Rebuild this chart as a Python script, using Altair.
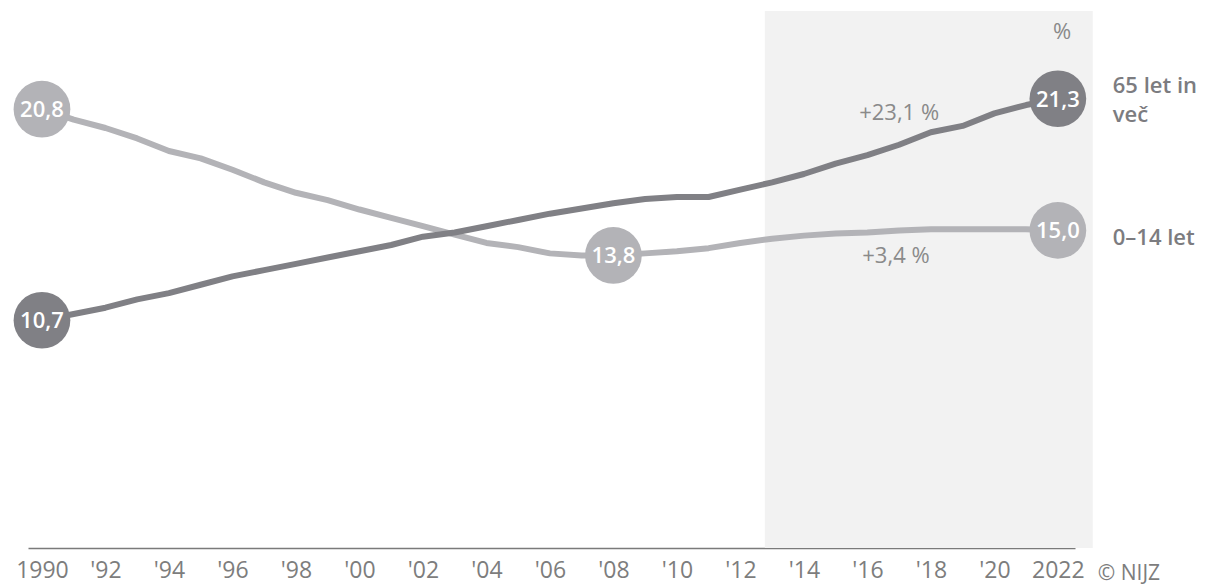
import altair as alt
import pandas as pd

# ---- data ----
years = list(range(1990, 2023))
young = [20.8, 20.3, 19.9, 19.4, 18.8, 18.45, 17.9, 17.3, 16.8, 16.45, 16.0,
         15.6, 15.2, 14.8, 14.4, 14.2, 13.9, 13.8, 13.8, 13.9, 14.0,
         14.15, 14.4, 14.6, 14.75, 14.85, 14.9, 15.0, 15.06, 15.06, 15.06,
         15.06, 15.0]
old = [10.7, 11.0, 11.3, 11.7, 12.0, 12.4, 12.8, 13.1, 13.4, 13.7, 14.0,
       14.3, 14.7, 14.9, 15.2, 15.5, 15.8, 16.05, 16.3, 16.5, 16.6,
       16.6, 16.95, 17.3, 17.7, 18.2, 18.6, 19.1, 19.7, 20.0, 20.6,
       21.0, 21.3]
series_names = ["0–14 let", "65 let in več"]
series_colors = ["#b3b3b7", "#808085"]

# highlighted points (circles)
pt_years = [1990, 2008, 2022, 1990, 2022]
pt_series = ["0–14 let", "0–14 let", "0–14 let", "65 let in več", "65 let in več"]

# x tick labels
tick_years = list(range(1990, 2023, 2))

# shaded period
shade_from, shade_to = 2012.77, 2023.1
y_min, y_max = -0.2, 25.5
x_min, x_max = 1989.56, 2022.54

# annotations
ann_text = ["+23,1 %", "+3,4 %", "%"]
ann_year = [2017.0, 2016.9, 2022.13]
ann_value = [20.27, 13.43, 24.15]

# series labels on the right
lab_text = ["65 let in\nveč", "0–14 let"]
lab_year = [2023.73, 2023.73]
lab_value = [21.57, 14.29]

credit_text = ["© NIJZ"]
credit_year = [2023.26]
credit_value = [-1.75]

# ---- tables ----
lines_df = pd.DataFrame({
    "year": years * 2,
    "value": young + old,
    "series": [series_names[0]] * len(years) + [series_names[1]] * len(years),
})
lookup = {(s, y): v for s, y, v in zip(lines_df.series, lines_df.year, lines_df.value)}
pts_df = pd.DataFrame({
    "year": pt_years,
    "series": pt_series,
    "value": [lookup[(s, y)] for s, y in zip(pt_series, pt_years)],
})
pts_df["label"] = pts_df["value"].map(lambda v: f"{v:.1f}".replace(".", ","))
shade_df = pd.DataFrame({"year": [shade_from], "year2": [shade_to],
                         "value": [y_min], "value2": [y_max]})
ann_df = pd.DataFrame({"year": ann_year, "value": ann_value, "text": ann_text})
lab_df = pd.DataFrame({"year": lab_year, "value": lab_value, "text": lab_text})
credit_df = pd.DataFrame({"year": credit_year, "value": credit_value, "text": credit_text})

FONT = "Open Sans"
xs = alt.Scale(domain=[x_min, x_max], nice=False, zero=False)
ys = alt.Scale(domain=[y_min, y_max], nice=False, zero=False)
xa = alt.Axis(values=tick_years, title=None, grid=False, ticks=False,
              domain=True, domainColor="#7a7a7a", domainWidth=1.5,
              labelFont=FONT, labelFontSize=23, labelColor="#7d7d7d",
              labelPadding=11, labelFlush=False, labelOverlap=False,
              labelExpr="datum.value == 1990 || datum.value == 2022 ? toString(datum.value) : \"'\" + substring(toString(datum.value), 2)")
X = alt.X("year:Q", scale=xs, axis=xa)
Y = alt.Y("value:Q", scale=ys, axis=None)
C = alt.Color("series:N", scale=alt.Scale(domain=series_names, range=series_colors), legend=None)

shade = alt.Chart(shade_df).mark_rect(color="#f2f2f2").encode(
    x=X, x2="year2:Q", y=Y, y2="value2:Q")

line_young = alt.Chart(lines_df).transform_filter(
    alt.datum.series == series_names[0]).mark_line(strokeWidth=6, strokeJoin="round").encode(
    x=X, y=Y, color=C)
line_old = alt.Chart(lines_df).transform_filter(
    alt.datum.series == series_names[1]).mark_line(strokeWidth=6, strokeJoin="round").encode(
    x=X, y=Y, color=C)

circles = alt.Chart(pts_df).mark_circle(size=3217, opacity=1).encode(x=X, y=Y, color=C)
circle_text = alt.Chart(pts_df).mark_text(
    font=FONT, fontSize=22, fontWeight=600, color="white",
    align="center", baseline="middle", dy=1).encode(x=X, y=Y, text="label:N")

ann = alt.Chart(ann_df).mark_text(
    font=FONT, fontSize=22, color="#8a8a8a", align="center",
    baseline="alphabetic").encode(x=X, y=Y, text="text:N")

labs = alt.Chart(lab_df).mark_text(
    font=FONT, fontSize=22, fontWeight=600, color="#7c7c80", align="left",
    baseline="alphabetic", lineBreak="\n", lineHeight=29).encode(x=X, y=Y, text="text:N")

credit = alt.Chart(credit_df).mark_text(
    font=FONT, fontSize=21, color="#7d7d7d", align="left",
    baseline="alphabetic").encode(x=X, y=Y, text="text:N")

chart = alt.layer(shade, line_young, line_old, circles, circle_text, ann, labs, credit).properties(
    width=1047, height=537,
    autosize=alt.AutoSizeParams(type="none"),
    padding={"left": 20, "top": 3, "right": 126, "bottom": 39},
    background="white",
).configure_view(stroke=None)

chart.save("out.html", embed_options={"renderer": "svg", "actions": False})
